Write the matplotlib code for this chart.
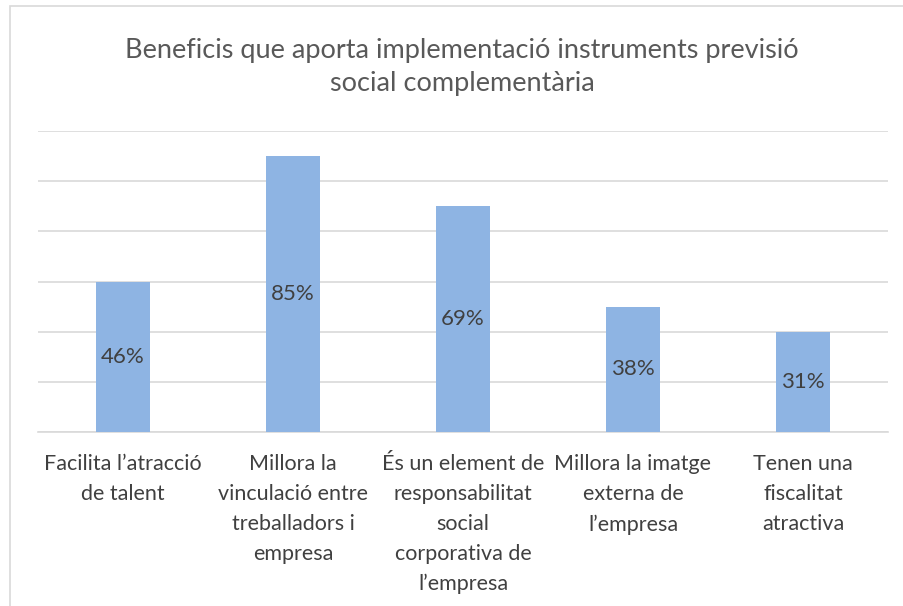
import matplotlib
matplotlib.use("Agg")
import matplotlib.pyplot as plt
from matplotlib.patches import Rectangle

title = "Beneficis que aporta implementació instruments previsió\nsocial complementària"
categories = [
    "Facilita l’atracció\nde talent",
    "Millora la\nvinculació entre\ntreballadors i\nempresa",
    "És un element de\nresponsabilitat\nsocial\ncorporativa de\nl’empresa",
    "Millora la imatge\nexterna de\nl’empresa",
    "Tenen una\nfiscalitat\natractiva",
]
counts = [6, 11, 9, 5, 4]
labels = ["46%", "85%", "69%", "38%", "31%"]

plt.rcParams['font.family'] = ['Lato', 'DejaVu Sans']

fig = plt.figure(figsize=(9.04, 6.06), dpi=100)
fig.patches.append(Rectangle((10/904, -0.1), 1.2, 1 - 6/606 + 0.1, transform=fig.transFigure,
                             fill=False, edgecolor="#D9D9D9", linewidth=1.2))
ax = fig.add_axes([38/904, 1 - 432/606, 850/904, (432 - 131)/606])

x = list(range(len(categories)))
bars = ax.bar(x, counts, width=0.32, color="#8EB4E3", zorder=3)
for b, lab in zip(bars, labels):
    ax.text(b.get_x() + b.get_width()/2, b.get_height()/2, lab, ha="center", va="center",
            fontsize=16, color="#404040", zorder=4)

ax.set_xlim(-0.5, len(categories) - 0.5)
ax.set_ylim(0, 12)
ax.set_yticks(range(0, 13, 2))
ax.yaxis.grid(True, color="#D9D9D9", linewidth=1.2, zorder=0)
ax.tick_params(axis="y", length=0, labelleft=False)
ax.set_xticks(x)
ax.set_xticklabels(categories, fontsize=15.5, color="#404040", linespacing=1.62)
ax.tick_params(axis="x", length=0, pad=16)
for s in ["top", "right", "left"]:
    ax.spines[s].set_visible(False)
ax.spines["bottom"].set_color("#D9D9D9")
ax.spines["bottom"].set_linewidth(1.2)

fig.text(462/904, 1 - 67/606, title, ha="center", va="center", fontsize=19.5,
         color="#595959", linespacing=1.4)

fig.savefig("out.png", dpi=100)
